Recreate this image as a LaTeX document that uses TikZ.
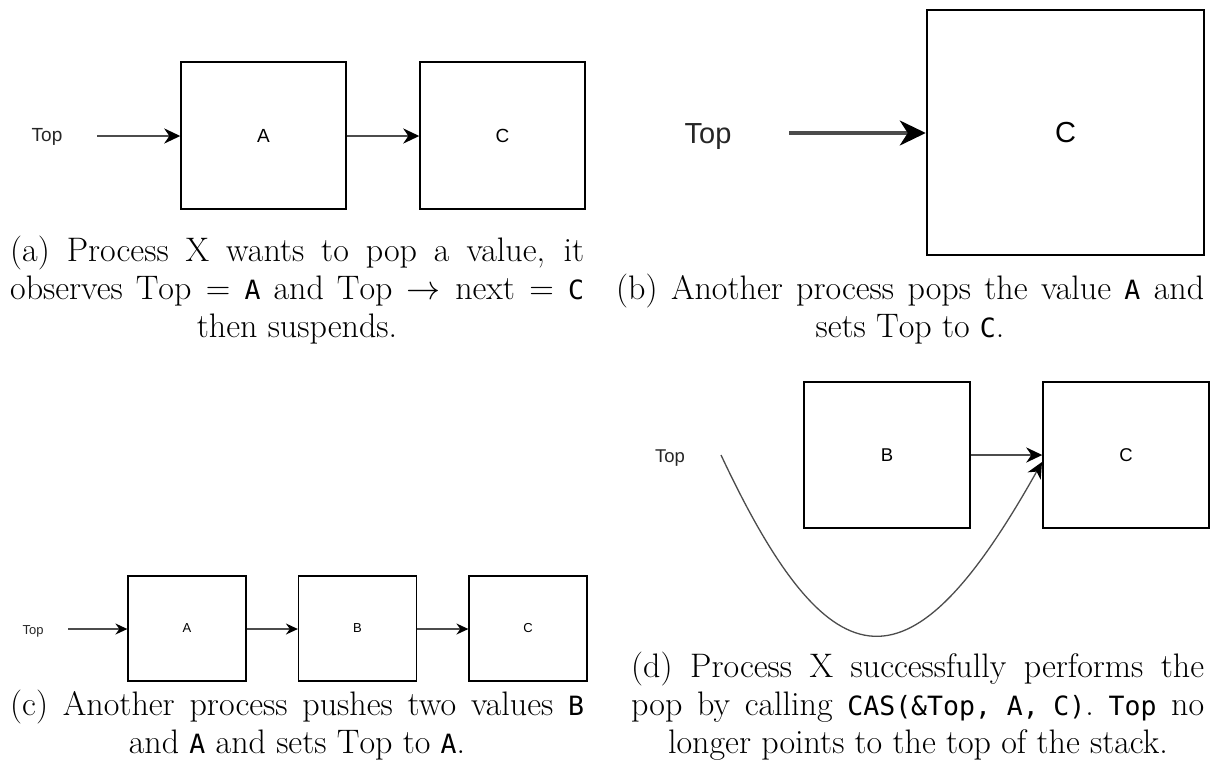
\documentclass[tikz,border=0pt]{standalone}
\usepackage{fix-cm}
\usepackage{fontspec}
\newfontfamily\diagf{Liberation Sans}
\setmonofont{DejaVu Sans Mono}[Scale=0.78]
\usetikzlibrary{arrows.meta}
\begin{document}
\begin{tikzpicture}[x=1pt,y=-1pt,
  lbl/.style={font=\diagf\fontsize{#1}{#1}\selectfont, inner sep=0pt, text=black!85},
  bx/.style={draw=black, inner sep=0pt, font=\diagf\fontsize{#1}{#1}\selectfont},
  captxt/.style={inner sep=0pt, font=\fontsize{34}{38}\selectfont},
  lnk/.style={draw=black!70, line width=#1},
  tipa/.style={-{Stealth[length=16pt,width=15pt,inset=5pt,color=black]}},
  tipb/.style={-{Stealth[length=26pt,width=25pt,inset=8pt,color=black]}},
  tipc/.style={-{Stealth[length=12pt,width=11pt,inset=4pt,color=black]}}
]
\useasboundingbox (0,0) rectangle (1216,780);

% ---------- (a)
\node[lbl=19] (aTop) at (47,137) {Top};
\node[bx=19, line width=1.4pt, minimum width=165pt, minimum height=147pt] (aA) at (263.5,135.5) {A};
\node[bx=19, line width=1.4pt, minimum width=165pt, minimum height=147pt] (aC) at (502.5,135.5) {C};
\coordinate (aS) at (97,136);
\draw[lnk=2.2pt, tipa] (aS) -- (aA.west|-aS);
\draw[lnk=2.2pt, tipa] (aA.east|-aS) -- (aC.west|-aS);

\node[captxt, anchor=base west] (capa1) at (10,261) {\makebox[574pt][s]{(a) Process X wants to pop a value, it}};
\node[captxt, anchor=base west] (capa2) at (10,299) {\makebox[574pt][s]{observes $\mathrm{Top} = \texttt{A}$ and $\mathrm{Top} \rightarrow \mathrm{next} = \texttt{C}$}};
\node[captxt, anchor=base] (capa3) at (297,337) {then suspends.};

% ---------- (b)
\node[lbl=29] (bTop) at (708,137) {Top};
\node[bx=29, line width=2.5pt, minimum width=277pt, minimum height=245pt] (bC) at (1065.5,132.5) {C};
\coordinate (bS) at (789,133);
\draw[lnk=3.2pt, tipb] (bS) -- (bC.west|-bS);

\node[captxt, anchor=base west] (capb1) at (616,299) {\makebox[588pt][s]{(b) Another process pops the value \texttt{A} and}};
\node[captxt, anchor=base] (capb2) at (910,337) {sets $\mathrm{Top}$ to \texttt{C}.};

% ---------- (c)
\node[lbl=13] (cTop) at (33,631) {Top};
\node[bx=13, line width=1.2pt, minimum width=118pt, minimum height=105pt] (cA) at (187,628.5) {A};
\node[bx=13, line width=1.2pt, minimum width=118pt, minimum height=105pt] (cB) at (357.5,628.5) {B};
\node[bx=13, line width=1.2pt, minimum width=118pt, minimum height=105pt] (cC) at (528,628.5) {C};
\coordinate (cS) at (68,629);
\draw[lnk=1.7pt, tipc] (cS) -- (cA.west|-cS);
\draw[lnk=1.7pt, tipc] (cA.east|-cS) -- (cB.west|-cS);
\draw[lnk=1.7pt, tipc] (cB.east|-cS) -- (cC.west|-cS);

\node[captxt, anchor=base west] (capc1) at (10,715) {\makebox[574pt][s]{(c) Another process pushes two values \texttt{B}}};
\node[captxt, anchor=base] (capc2) at (297,753) {and \texttt{A} and sets $\mathrm{Top}$ to \texttt{A}.};

% ---------- (d)
\node[lbl=18.5] (dTop) at (670,458) {Top};
\node[bx=18.5, line width=1.4pt, minimum width=166pt, minimum height=146pt] (dB) at (887,455) {B};
\node[bx=18.5, line width=1.4pt, minimum width=166pt, minimum height=146pt] (dC) at (1126,455) {C};
\coordinate (dS) at (721,455);
\coordinate (dE) at (1042,462);
\draw[lnk=2.2pt, tipa] (dB.east|-dS) -- (dC.west|-dS);
\draw[draw=black!70, line width=1.3pt, tipa] (dS) .. controls (833,694) and (912,694) .. (dE);

\node[captxt, anchor=base west] (capd1) at (631,677) {\makebox[573pt][s]{(d) Process X successfully performs the}};
\node[captxt, anchor=base west] (capd2) at (631,715) {\makebox[573pt][s]{pop by calling \texttt{CAS(\&Top,} \texttt{A,} \texttt{C)}. \texttt{Top} no}};
\node[captxt, anchor=base] (capd3) at (918,753) {longer points to the top of the stack.};
\end{tikzpicture}
\end{document}
